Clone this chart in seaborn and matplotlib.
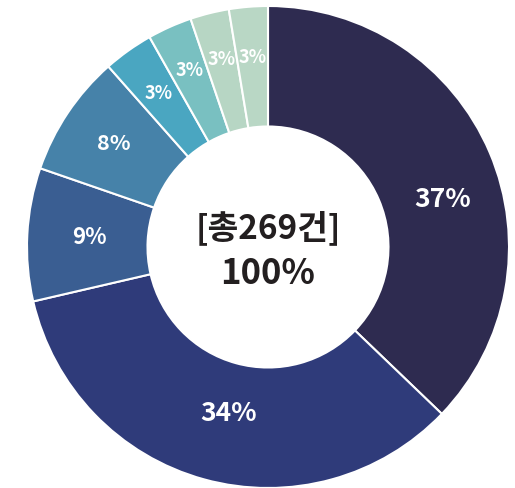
import matplotlib
matplotlib.use('Agg')
import matplotlib.pyplot as plt
import seaborn as sns
import numpy as np

# counts per category (total 269)
counts = [100, 92, 24, 22, 9, 8, 7, 7]
colors = ['#2e2b50', '#2f3b7a', '#3a5e92', '#4682a9', '#4aa6c1', '#79c0c1', '#b7d6c4', '#b9d7c5']
total_label = '[총269건]'
center_pct = '100%'

sns.set_theme(style='white')
plt.rcParams['font.family'] = ['Noto Sans CJK KR', 'DejaVu Sans']

fig = plt.figure(figsize=(5.15, 4.88), dpi=100)
ax = fig.add_axes([0, 0, 1, 1])

wedges, _ = ax.pie(counts, colors=colors, startangle=90, counterclock=False,
                   radius=1.0, wedgeprops=dict(width=0.5, edgecolor='white', linewidth=1.5))

# label placement per slice (radius, angle nudge in degrees, font size)
label_r = [0.75, 0.71, 0.74, 0.77, 0.78, 0.80, 0.80, 0.79]
label_shift = [-8, 2, 0, 0, 0, 0, 0, 0]
label_size = [19, 19, 16, 15.5, 13, 13, 13, 13]
total = sum(counts)
for w, c, r, sh, fs in zip(wedges, counts, label_r, label_shift, label_size):
    ang = np.deg2rad((w.theta1 + w.theta2) / 2 + sh)
    pct = round(c / total * 100)
    ax.text(r * np.cos(ang), r * np.sin(ang), f'{pct}%', ha='center', va='center',
            color='white', fontsize=fs, fontweight='bold')

ax.text(0, 0.08, total_label, ha='center', va='center', fontsize=24,
        fontweight='bold', color='#231f20')
ax.text(0, -0.11, center_pct, ha='center', va='center', fontsize=25,
        fontweight='bold', color='#231f20')

ax.set_xlim(-268 / 241, (515 - 268) / 241)
ax.set_ylim(-(488 - 247) / 241, 247 / 241)
ax.set_aspect('auto')
ax.axis('off')

fig.savefig('out.png', dpi=100)
